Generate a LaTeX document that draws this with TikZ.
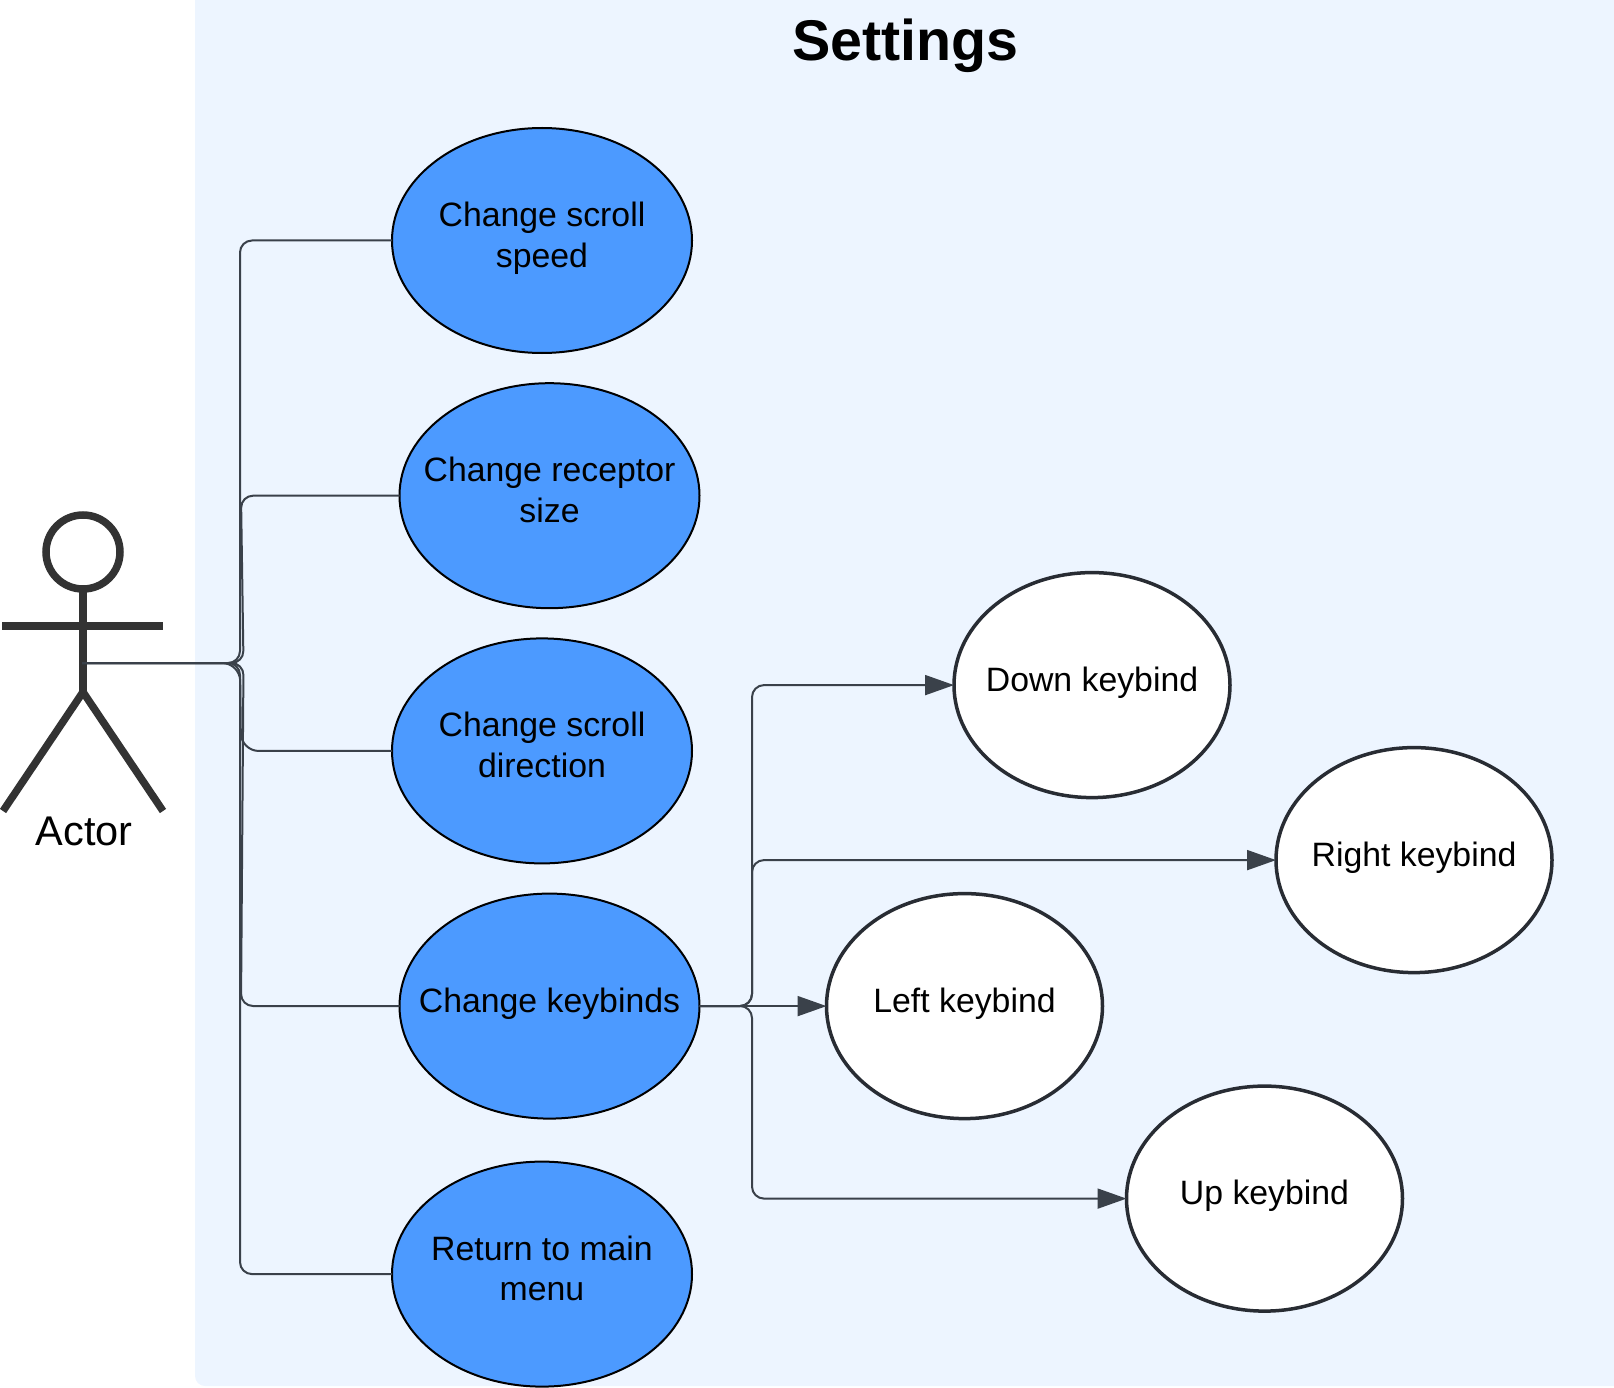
\documentclass[tikz,border=0pt]{standalone}
\usepackage{fontspec}
\setmainfont{Liberation Sans}
\usetikzlibrary{positioning,arrows.meta,shapes.geometric}

\definecolor{panelblue}{HTML}{EDF5FF}
\definecolor{casefill}{HTML}{4C9AFF}
\definecolor{linkgray}{HTML}{3A414A}
\definecolor{keyborder}{HTML}{282C33}
\definecolor{actorgray}{HTML}{333333}

\begin{document}
\begin{tikzpicture}[
        x=1pt, y=-1pt,
        node distance=30.2pt and 127pt,
        usecase/.style={draw=black, fill=casefill, ellipse, line width=2pt, minimum width=300pt, minimum height=225pt, inner xsep=-60pt, inner ysep=0pt, outer sep=0pt, align=center, text depth=12pt, font=\fontsize{33.8}{40.6}\selectfont},
        keybind/.style={usecase, draw=keyborder, fill=white, line width=3.5pt, minimum width=276pt},
        actorline/.style={draw=actorgray, line width=7.5pt},
        link/.style={draw=linkgray, line width=2pt, rounded corners=12pt},
        arrowlink/.style={link, -{Triangle[length=29pt,width=20pt,fill=linkgray]}}
      ]
      \useasboundingbox (0,0) rectangle (1614,1388);

      % Panel
      \fill[panelblue, rounded corners=10pt] (195,-20) rectangle (1634,1386);
      \node[font=\fontsize{57.4}{60}\bfseries] (title) at (905.5,46) {Settings};

      % Actor
      \node[actorline, circle, minimum size=74pt, inner sep=0pt, outer sep=0pt] (head) at (83,552) {};
      \coordinate (crotch) at (83,692);
      \coordinate (handl) at (2,626);
      \coordinate (handr) at (163,626);
      \coordinate (footl) at (3,811);
      \coordinate (footr) at (163,811);
      \coordinate (hip) at (82,663);
      \draw[actorline] (head.south) -- (crotch);
      \draw[actorline] (handl) -- (handr);
      \draw[actorline] (footl) -- (crotch) -- (footr);
      \node[font=\fontsize{41.5}{48}\selectfont] (actor) at (84,831) {Actor};

      % Nodes
      \node[usecase] (speed) at (542,240.5) {Change scroll\\speed};
      \node[usecase, below=of speed, xshift=7.5pt] (receptor) {Change receptor\\size};
      \node[usecase, below=of receptor, xshift=-7.5pt] (direction) {Change scroll\\direction};
      \node[usecase, below=of direction, xshift=7.5pt] (keybinds) {Change keybinds};
      \node[usecase, below=43pt of keybinds, xshift=-7.5pt] (back) {Return to main\\menu};
      \node[keybind, right=of keybinds] (leftkey) {Left keybind};
      \node[keybind, above=96pt of leftkey, xshift=127.5pt] (downkey) {Down keybind};
      \node[keybind, right=46pt of downkey, yshift=-175pt] (rightkey) {Right keybind};
      \node[keybind, right=24pt of leftkey, yshift=-192.5pt] (upkey) {Up keybind};

      % Edges
      \coordinate (trunk) at (240,663);
      \coordinate (trunkb) at (243.5,663);
      \coordinate (branch) at (752,1006);
      \draw[link] (hip) -- (trunk) |- (speed.west);
      \draw[link] (hip) -- (trunkb) -- (241,495.7) -- (receptor.west);
      \draw[link, rounded corners=18pt] (hip) -- (trunk) -- (241,751) -- (direction.west);
      \draw[link] (hip) -- (trunkb) -- (241,1006) -- (keybinds.west);
      \draw[link] (hip) -- (trunk) |- (back.west);
      \draw[arrowlink] (keybinds.east) -- (branch) |- (downkey.west);
      \draw[arrowlink] (keybinds.east) -- (branch) |- (rightkey.west);
      \draw[arrowlink] (keybinds.east) -- (leftkey.west);
      \draw[arrowlink] (keybinds.east) -- (branch) |- (upkey.west);

    \end{tikzpicture}
\end{document}
